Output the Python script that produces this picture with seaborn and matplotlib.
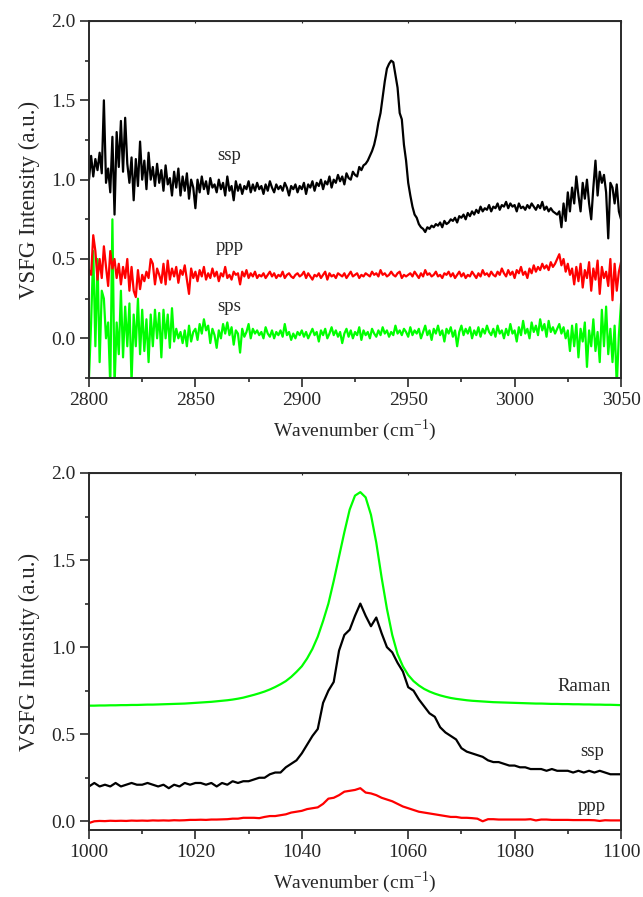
import numpy as np
import pandas as pd
import seaborn as sns
import matplotlib.pyplot as plt
from matplotlib.ticker import MultipleLocator

# ---- CH stretch region (top panel), 1 cm-1 steps from 2800 to 3050
wn_ch = np.arange(2800, 3051, 1)

ssp_ch = [
    1.00, 1.15, 1.02, 1.13, 1.06, 1.17, 1.04, 1.50, 0.98, 1.07,
    0.92, 1.27, 0.78, 1.30, 1.08, 1.37, 1.05, 1.39, 1.10, 0.98,
    1.14, 0.87, 1.13, 0.96, 1.24, 1.00, 1.12, 0.94, 1.17, 1.00,
    1.08, 0.96, 1.10, 0.98, 1.06, 0.93, 1.09, 0.97, 1.01, 0.90,
    1.05, 0.95, 1.07, 0.90, 1.02, 0.93, 1.04, 0.88, 1.00, 0.95,
    0.82, 1.00, 0.92, 1.02, 0.94, 0.99, 0.91, 1.01, 0.95, 0.97,
    0.92, 1.00, 0.94, 0.98, 0.90, 1.02, 0.93, 0.96, 0.87, 0.99,
    0.93, 0.97, 0.91, 0.96, 0.94, 0.99, 0.92, 0.97, 0.93, 0.98,
    0.94, 0.96, 0.91, 0.97, 0.93, 0.99, 0.95, 0.92, 0.97, 0.94,
    0.96, 0.93, 0.98, 0.95, 0.90, 0.96, 0.94, 0.97, 0.92, 0.96,
    0.94, 0.98, 0.91, 0.97, 0.95, 0.99, 0.93, 0.98, 0.96, 1.00,
    0.94, 0.99, 0.97, 1.02, 0.95, 1.00, 0.98, 1.03, 0.99, 1.02,
    0.97, 1.04, 1.01, 1.00, 1.05, 1.03, 1.02, 1.08, 1.06, 1.09,
    1.10, 1.12, 1.15, 1.18, 1.22, 1.28, 1.36, 1.42, 1.52, 1.62,
    1.70, 1.73, 1.75, 1.74, 1.66, 1.58, 1.42, 1.38, 1.22, 1.12,
    0.98, 0.90, 0.83, 0.78, 0.76, 0.72, 0.70, 0.69, 0.67, 0.70,
    0.69, 0.71, 0.70, 0.72, 0.71, 0.73, 0.70, 0.74, 0.72, 0.73,
    0.75, 0.74, 0.76, 0.73, 0.77, 0.76, 0.78, 0.75, 0.79, 0.77,
    0.80, 0.78, 0.81, 0.79, 0.83, 0.80, 0.82, 0.81, 0.84, 0.80,
    0.83, 0.82, 0.85, 0.81, 0.84, 0.83, 0.86, 0.82, 0.85, 0.83,
    0.84, 0.80, 0.85, 0.82, 0.83, 0.81, 0.84, 0.82, 0.85, 0.83,
    0.81, 0.84, 0.82, 0.86, 0.81, 0.83, 0.80, 0.82, 0.80, 0.79,
    0.78, 0.80, 0.70, 0.85, 0.74, 0.92, 0.80, 0.95, 0.85, 1.02,
    0.90, 0.80, 0.98, 0.88, 1.00, 0.85, 0.75, 0.95, 1.12, 0.90,
    1.05, 0.98, 1.03, 0.92, 0.63, 0.98, 0.95, 0.85, 0.97, 0.80,
    0.75,
]

ppp_ch = [
    0.43, 0.40, 0.65, 0.55, 0.37, 0.50, 0.38, 0.58, 0.45, 0.33,
    0.55, 0.44, 0.50, 0.38, 0.47, 0.34, 0.45, 0.38, 0.50, 0.30,
    0.45, 0.30, 0.26, 0.43, 0.31, 0.40, 0.36, 0.42, 0.38, 0.50,
    0.47, 0.34, 0.44, 0.40, 0.35, 0.47, 0.34, 0.49, 0.37, 0.44,
    0.39, 0.45, 0.35, 0.43, 0.40, 0.46, 0.37, 0.28, 0.44, 0.38,
    0.42, 0.36, 0.43, 0.39, 0.45, 0.37, 0.41, 0.38, 0.44, 0.39,
    0.42, 0.36, 0.41, 0.39, 0.45, 0.38, 0.40, 0.37, 0.42, 0.40,
    0.41, 0.34, 0.42, 0.39, 0.43, 0.38, 0.41, 0.39, 0.42, 0.38,
    0.40, 0.39, 0.41, 0.38, 0.40, 0.42, 0.39, 0.41, 0.38, 0.40,
    0.39, 0.42, 0.38, 0.40, 0.41, 0.39, 0.38, 0.40, 0.41, 0.39,
    0.40, 0.42, 0.38, 0.41, 0.39, 0.37, 0.40, 0.39, 0.41, 0.38,
    0.40, 0.42, 0.37, 0.41, 0.39, 0.40, 0.38, 0.41, 0.40, 0.39,
    0.41, 0.38, 0.40, 0.42, 0.39, 0.40, 0.41, 0.38, 0.40, 0.39,
    0.41, 0.40, 0.39, 0.42, 0.40, 0.41, 0.39, 0.43, 0.40, 0.41,
    0.39, 0.40, 0.42, 0.40, 0.39, 0.41, 0.42, 0.38, 0.40, 0.39,
    0.40, 0.41, 0.39, 0.42, 0.40, 0.38, 0.41, 0.39, 0.43, 0.40,
    0.41, 0.39, 0.40, 0.42, 0.39, 0.40, 0.38, 0.41, 0.40, 0.42,
    0.39, 0.41, 0.38, 0.40, 0.42, 0.39, 0.41, 0.38, 0.40, 0.39,
    0.42, 0.40, 0.38, 0.41, 0.39, 0.43, 0.40, 0.41, 0.39, 0.42,
    0.40, 0.39, 0.42, 0.40, 0.44, 0.41, 0.39, 0.43, 0.40, 0.42,
    0.38, 0.43, 0.41, 0.45, 0.40, 0.42, 0.38, 0.44, 0.41, 0.46,
    0.42, 0.45, 0.43, 0.47, 0.44, 0.46, 0.43, 0.48, 0.45, 0.47,
    0.50, 0.53, 0.46, 0.50, 0.42, 0.47, 0.40, 0.44, 0.34, 0.45,
    0.36, 0.47, 0.32, 0.43, 0.38, 0.48, 0.30, 0.44, 0.37, 0.49,
    0.28, 0.45, 0.38, 0.42, 0.33, 0.50, 0.24, 0.47, 0.30, 0.42,
    0.48,
]

sps_ch = [
    -0.25, 0.10, 0.55, -0.05, 0.50, -0.15, 0.30, 0.25, 0.00, 0.10,
    -0.30, 0.75, -0.30, 0.10, -0.10, 0.30, -0.12, 0.20, -0.05, 0.22,
    -0.28, 0.15, -0.05, 0.25, -0.10, 0.18, -0.08, 0.12, -0.15, 0.15,
    -0.05, 0.18, 0.00, 0.16, -0.12, 0.18, 0.00, 0.15, -0.06, 0.19,
    -0.02, 0.06, 0.00, 0.04, -0.03, 0.05, -0.05, 0.08, -0.02, 0.04,
    0.06, -0.01, 0.09, 0.03, 0.12, 0.05, 0.08, -0.03, 0.06, 0.02,
    -0.06, 0.05, 0.00, 0.09, 0.03, 0.10, 0.02, 0.07, -0.04, 0.05,
    0.03, -0.09, 0.06, 0.01, 0.04, 0.09, 0.00, 0.06, 0.03, 0.05,
    0.02, 0.04, 0.00, 0.07, 0.03, 0.01, 0.05, 0.00, 0.04, 0.02,
    0.05, 0.01, 0.09, 0.02, 0.04, -0.01, 0.03, 0.00, 0.04, 0.02,
    0.05, 0.01, 0.04, 0.00, 0.03, 0.06, 0.02, 0.04, -0.02, 0.05,
    0.02, 0.06, 0.00, 0.03, 0.07, 0.02, 0.05, 0.01, 0.04, -0.03,
    0.03, 0.06, 0.01, 0.05, 0.00, 0.04, 0.02, 0.07, -0.01, 0.05,
    0.02, 0.04, 0.00, 0.06, 0.03, 0.01, 0.05, 0.02, 0.07, 0.03,
    0.05, 0.01, 0.04, 0.02, 0.08, 0.03, 0.05, 0.02, 0.06, 0.04,
    0.01, 0.07, 0.02, 0.05, 0.03, 0.06, 0.00, 0.04, 0.08, 0.02,
    0.05, -0.01, 0.06, 0.03, 0.08, 0.02, 0.05, -0.02, 0.06, 0.03,
    0.07, 0.01, 0.05, -0.05, 0.04, 0.08, 0.02, 0.06, 0.03, 0.07,
    0.00, 0.05, 0.02, 0.07, 0.01, 0.06, 0.03, 0.08, 0.04, 0.02,
    0.06, 0.01, 0.08, 0.03, 0.05, 0.00, 0.06, 0.02, 0.09, 0.03,
    0.05, -0.02, 0.07, 0.02, 0.11, 0.03, 0.06, 0.00, 0.10, 0.04,
    0.08, 0.02, 0.12, 0.05, 0.09, 0.01, 0.11, 0.04, 0.07, 0.03,
    0.06, 0.09, 0.03, 0.07, 0.00, 0.05, -0.08, 0.08, -0.05, 0.09,
    -0.12, 0.06, -0.02, 0.10, -0.18, 0.05, -0.05, 0.12, -0.08, 0.04,
    -0.15, 0.18, -0.05, 0.20, -0.10, 0.06, -0.15, 0.08, -0.30, 0.02,
    0.22,
]

# ---- 1000-1100 region (bottom panel)
wn_co = np.arange(1000, 1101, 1)

raman_co = [
    0.664, 0.664, 0.665, 0.665, 0.666, 0.666, 0.667, 0.667, 0.668, 0.668,
    0.669, 0.670, 0.670, 0.671, 0.672, 0.673, 0.674, 0.675, 0.676, 0.678,
    0.680, 0.682, 0.684, 0.686, 0.689, 0.692, 0.695, 0.699, 0.704, 0.710,
    0.718, 0.726, 0.735, 0.745, 0.757, 0.771, 0.787, 0.805, 0.829, 0.858,
    0.890, 0.935, 0.990, 1.060, 1.150, 1.250, 1.380, 1.520, 1.660, 1.790,
    1.870, 1.890, 1.860, 1.760, 1.600, 1.400, 1.220, 1.070, 0.960, 0.890,
    0.840, 0.805, 0.780, 0.760, 0.745, 0.733, 0.723, 0.715, 0.708, 0.703,
    0.699, 0.695, 0.692, 0.690, 0.688, 0.686, 0.684, 0.683, 0.682, 0.681,
    0.680, 0.679, 0.678, 0.677, 0.676, 0.676, 0.675, 0.674, 0.674, 0.673,
    0.673, 0.672, 0.672, 0.671, 0.671, 0.670, 0.670, 0.669, 0.669, 0.668,
    0.667,
]

ssp_co = [
    0.20, 0.22, 0.20, 0.21, 0.20, 0.22, 0.20, 0.21, 0.22, 0.21,
    0.21, 0.22, 0.21, 0.20, 0.21, 0.19, 0.21, 0.20, 0.22, 0.21,
    0.22, 0.22, 0.21, 0.22, 0.20, 0.22, 0.21, 0.23, 0.22, 0.23,
    0.23, 0.24, 0.25, 0.25, 0.27, 0.28, 0.28, 0.31, 0.33, 0.35,
    0.39, 0.44, 0.49, 0.53, 0.68, 0.75, 0.80, 0.98, 1.07, 1.10,
    1.18, 1.25, 1.18, 1.12, 1.17, 1.08, 1.00, 0.97, 0.91, 0.86,
    0.77, 0.75, 0.70, 0.66, 0.62, 0.60, 0.54, 0.51, 0.49, 0.47,
    0.42, 0.40, 0.39, 0.38, 0.37, 0.35, 0.34, 0.34, 0.33, 0.32,
    0.32, 0.31, 0.31, 0.30, 0.30, 0.30, 0.29, 0.30, 0.29, 0.29,
    0.29, 0.28, 0.29, 0.28, 0.29, 0.28, 0.29, 0.28, 0.27, 0.27,
    0.27,
]

ppp_co = [
    -0.010, 0.000, 0.002, 0.001, 0.003, 0.002, 0.003, 0.002, 0.004, 0.003,
    0.004, 0.003, 0.005, 0.004, 0.005, 0.004, 0.006, 0.005, 0.006, 0.008,
    0.008, 0.009, 0.008, 0.010, 0.010, 0.011, 0.012, 0.015, 0.015, 0.020,
    0.020, 0.020, 0.018, 0.025, 0.030, 0.030, 0.035, 0.040, 0.050, 0.055,
    0.060, 0.070, 0.075, 0.080, 0.100, 0.130, 0.135, 0.150, 0.170, 0.175,
    0.180, 0.190, 0.165, 0.160, 0.150, 0.135, 0.125, 0.115, 0.100, 0.085,
    0.075, 0.065, 0.055, 0.050, 0.045, 0.040, 0.035, 0.030, 0.025, 0.025,
    0.020, 0.020, 0.018, 0.015, 0.000, 0.012, 0.012, 0.010, 0.010, 0.010,
    0.010, 0.010, 0.010, 0.012, 0.005, 0.010, 0.010, 0.008, 0.008, 0.008,
    0.008, 0.007, 0.007, 0.007, 0.007, 0.006, 0.002, 0.006, 0.005, 0.005,
    0.005,
]

BLACK = "#000000"
RED = "#ff0000"
GREEN = "#00ff00"
AXCOL = "#2a2a2a"

sns.set_style("ticks")
plt.rcParams["font.family"] = ["Liberation Serif", "DejaVu Serif"]
plt.rcParams["mathtext.fontset"] = "custom"
plt.rcParams["mathtext.rm"] = "Liberation Serif"

fig = plt.figure(figsize=(6.43, 8.97), dpi=100)
ax1 = fig.add_axes([0.1384, 0.5786, 0.8274, 0.398])
ax2 = fig.add_axes([0.1384, 0.0747, 0.8274, 0.398])

top = pd.DataFrame({"wn": wn_ch, "ssp": ssp_ch, "ppp": ppp_ch, "sps": sps_ch})
bot = pd.DataFrame({"wn": wn_co, "Raman": raman_co, "ssp": ssp_co, "ppp": ppp_co})

for col, c in [("sps", GREEN), ("ppp", RED), ("ssp", BLACK)]:
    sns.lineplot(data=top, x="wn", y=col, color=c, lw=1.6, estimator=None, ax=ax1)
for col, c in [("Raman", GREEN), ("ppp", RED), ("ssp", BLACK)]:
    sns.lineplot(data=bot, x="wn", y=col, color=c, lw=1.6, estimator=None, ax=ax2)

ax1.set_xlim(2800, 3050)
ax1.set_ylim(-0.25, 2.0)
ax1.xaxis.set_major_locator(MultipleLocator(50))
ax1.xaxis.set_minor_locator(MultipleLocator(25))

ax2.set_xlim(1000, 1100)
ax2.set_ylim(-0.05, 2.0)
ax2.xaxis.set_major_locator(MultipleLocator(20))
ax2.xaxis.set_minor_locator(MultipleLocator(10))

for ax in (ax1, ax2):
    ax.yaxis.set_major_locator(MultipleLocator(0.5))
    ax.yaxis.set_minor_locator(MultipleLocator(0.25))
    ax.yaxis.set_major_formatter(plt.FormatStrFormatter("%.1f"))
    # outward ticks on bottom / left
    ax.tick_params(which="both", direction="out", width=1.2, color=AXCOL,
                   labelsize=14)
    ax.tick_params(which="major", length=6.5)
    ax.tick_params(which="minor", length=3)
    # hardly visible inward marks on top / right
    ax.secondary_xaxis("top").tick_params(which="both", direction="in",
                                          length=1.5, labeltop=False,
                                          color=AXCOL)
    for s in ax.spines.values():
        s.set_linewidth(1.4)
        s.set_color(AXCOL)
    ax.set_xlabel("Wavenumber (cm$^{-1}$)", fontsize=14, labelpad=6)
    ax.set_ylabel("VSFG Intensity (a.u.)", fontsize=16.5, labelpad=8)

# remove the helper axis spines drawn by secondary_xaxis (keep only main frame)
for ax in fig.axes[2:]:
    ax.spines["top"].set_visible(False)

# curve labels
ax1.text(2866, 1.15, "ssp", fontsize=13.5, ha="center", va="center")
ax1.text(2866, 0.58, "ppp", fontsize=13.5, ha="center", va="center")
ax1.text(2866, 0.20, "sps", fontsize=13.5, ha="center", va="center")

ax2.text(1098, 0.775, "Raman", fontsize=13.5, ha="right", va="center")
ax2.text(1094.5, 0.40, "ssp", fontsize=13.5, ha="center", va="center")
ax2.text(1094.5, 0.086, "ppp", fontsize=13.5, ha="center", va="center")

fig.savefig("out.png", dpi=100)
